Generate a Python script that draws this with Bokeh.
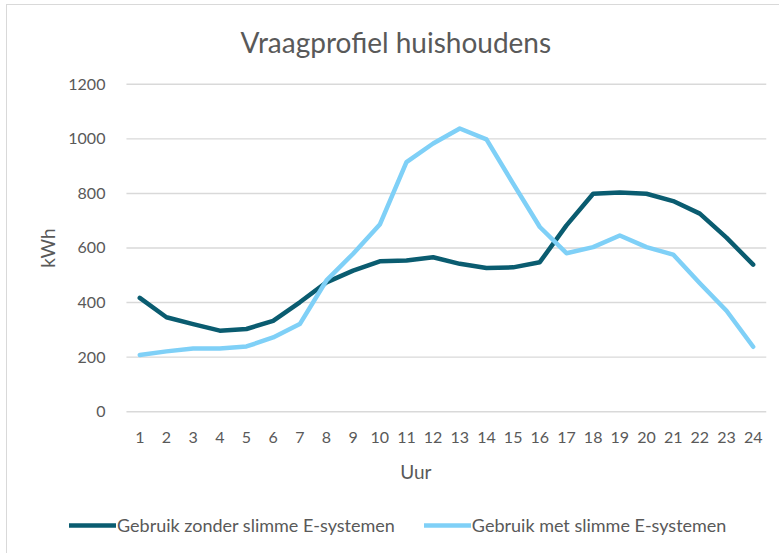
from bokeh.plotting import figure
from bokeh.models import Range1d, FixedTicker, Legend, LegendItem, Title, Label
from bokeh.embed import file_html
from bokeh.resources import INLINE

# ---- data ----
hours = list(range(1, 25))
hour_labels = [str(h) for h in hours]
zonder = [417, 346, 321, 297, 303, 333, 401, 474, 517, 551, 554, 566,
          542, 527, 529, 548, 683, 799, 803, 799, 772, 726, 638, 539]
met = [208, 221, 232, 232, 239, 272, 321, 481, 579, 686, 915, 983,
       1038, 998, 836, 677, 581, 603, 646, 603, 576, 471, 370, 238]
y_ticks = [0, 200, 400, 600, 800, 1000, 1200]
series_names = ["Gebruik zonder slimme E-systemen", "Gebruik met slimme E-systemen"]
title_text = "Vraagprofiel huishoudens"
x_title = "Uur"
y_title = "kWh"

FONT = "Lato"
TXT = "#595959"
DARK = "#0A5C70"
LIGHT = "#7FD0F7"
GRID = "#D9D9D9"

x_lo, x_hi = hours[0] - 0.5, hours[-1] + 0.5

p = figure(width=773, height=549, output_backend="svg", toolbar_location=None,
           x_range=Range1d(-3.96, x_hi), y_range=Range1d(-523.5, 1232.3),
           min_border_left=0, min_border_right=14, min_border_top=70,
           min_border_bottom=0)
p.styles = {"margin": "5px 0px 0px 7px", "box-shadow": "-1px -1px 0px 0px #d9d9d9"}
p.outline_line_color = None
p.background_fill_color = "white"
p.border_fill_color = "white"
p.grid.visible = False

# axes, fixed on the plot area's edges
p.xaxis.fixed_location = 0
p.xaxis.bounds = (x_lo, x_hi)
p.xaxis.ticker = FixedTicker(ticks=hours)
p.xaxis.major_label_overrides = {h: l for h, l in zip(hours, hour_labels)}
p.yaxis.fixed_location = x_lo
p.yaxis.bounds = (y_ticks[0], y_ticks[-1])
p.yaxis.ticker = FixedTicker(ticks=y_ticks)
for ax in (p.xaxis[0], p.yaxis[0]):
    ax.axis_line_color = None
    ax.major_tick_line_color = None
    ax.minor_tick_line_color = None
    ax.major_label_text_font = FONT
    ax.major_label_text_font_size = "16px"
    ax.major_label_text_color = TXT
p.yaxis.major_label_standoff = 15
p.xaxis.major_label_standoff = 14
p.yaxis.axis_label = y_title
p.yaxis.axis_label_text_font = FONT
p.yaxis.axis_label_text_font_size = "19px"
p.yaxis.axis_label_text_font_style = "normal"
p.yaxis.axis_label_text_color = TXT
p.yaxis.axis_label_standoff = 6

# horizontal gridlines across the plot area
p.segment(x0=[x_lo] * len(y_ticks), x1=[x_hi] * len(y_ticks), y0=y_ticks, y1=y_ticks,
          line_color=GRID, line_width=1.4)

r1 = p.line(hours, zonder, line_color=DARK, line_width=4.5,
            line_join="round", line_cap="round")
r2 = p.line(hours, met, line_color=LIGHT, line_width=4.5,
            line_join="round", line_cap="round")

# title (above)
t = Title(text=title_text, align="left", offset=233, standoff=33,
          text_font=FONT, text_font_size="28px", text_font_style="normal",
          text_color=TXT)
p.add_layout(t, "above")

# x-axis title
p.add_layout(Label(x=11.35, y=-221, text=x_title, text_font=FONT,
                   text_font_size="19px", text_color=TXT, text_align="center",
                   text_baseline="middle"))

legend = Legend(items=[LegendItem(label=series_names[0], renderers=[r1]),
                       LegendItem(label=series_names[1], renderers=[r2])],
                orientation="horizontal", location=(62, 18),
                label_text_font=FONT, label_text_font_size="18px",
                label_text_color=TXT, glyph_width=47, glyph_height=20,
                label_height=20, label_standoff=1, spacing=29, padding=0, margin=0,
                border_line_color=None, background_fill_alpha=0)
p.add_layout(legend, "center")

open("out.html", "w").write(file_html(p, INLINE))
